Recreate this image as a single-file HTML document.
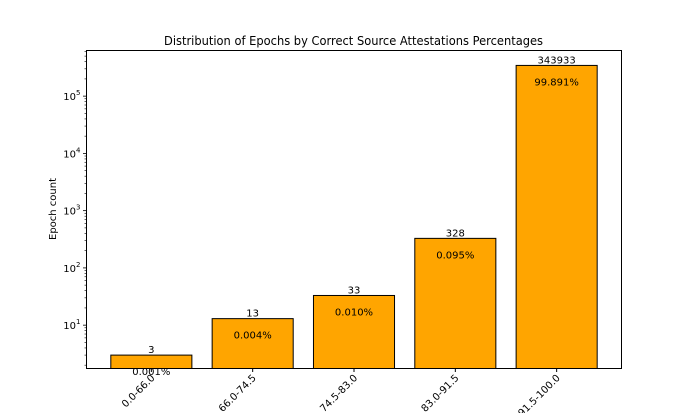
<!DOCTYPE html>
<html><head><meta charset="utf-8"><style>
body{margin:0;background:#fff}
svg text{font-family:"DejaVu Sans","Liberation Sans",sans-serif;fill:#000}
</style></head><body>
<svg id="chart" width="690" height="413" xmlns="http://www.w3.org/2000/svg">
<rect width="690" height="413" fill="#fff"/>
<text x="353.5" y="45" font-size="12" text-anchor="middle" textLength="379" lengthAdjust="spacingAndGlyphs">Distribution of Epochs by Correct Source Attestations Percentages</text>
<text x="0" y="0" font-size="10" text-anchor="middle" transform="translate(56,209) rotate(-90)">Epoch count</text>
<g id="bars"></g>
<g id="yticks"></g>
<rect x="86.5" y="50.5" width="535" height="318" fill="none" stroke="#000" stroke-width="1"/>
</svg>
<script>
const categories = ["0.0-66.0","66.0-74.5","74.5-83.0","83.0-91.5","91.5-100.0"];
const counts = [3, 13, 33, 328, 343933];
const countLabels = ["3","13","33","328","343933"];
const percentLabels = ["0.001%","0.004%","0.010%","0.095%","99.891%"];
const yTickExps = [1,2,3,4,5];

const L=86.5,R=621.5,T=50.5,B=368.5;
const yMinLog=Math.log10(1.75), yMaxLog=5.797;
const xMin=-0.64, xMax=categories.length-1+0.64;
function y(v){return B-(Math.log10(v)-yMinLog)/(yMaxLog-yMinLog)*(B-T);}
function x(i){return L+(i-xMin)/(xMax-xMin)*(R-L);}
const NS="http://www.w3.org/2000/svg";
const bw=0.8*(x(1)-x(0));
const bars=document.getElementById('bars');
function mk(tag,attrs,parent){const e=document.createElementNS(NS,tag);for(const k in attrs)e.setAttribute(k,attrs[k]);parent.appendChild(e);return e;}
categories.forEach((c,i)=>{
  const cx=x(i), top=y(counts[i]);
  const r=mk('rect',{x:cx-bw/2,y:top,width:bw,height:B-top,fill:'#ffa500',stroke:'#000','stroke-width':1},bars);
  
  
  const t1=mk('text',{x:cx,y:top-2,'font-size':10,'text-anchor':'middle'},bars);t1.textContent=countLabels[i];
  
  
  const t2=mk('text',{x:cx,y:top+20,'font-size':10,'text-anchor':'middle'},bars);t2.textContent=percentLabels[i];
  
  
  mk('line',{x1:cx,x2:cx,y1:B,y2:B+3.5,stroke:'#000'},bars);
  const t3=mk('text',{x:0,y:0,'font-size':10,'text-anchor':'end',transform:`translate(${cx+4},${B+10}) rotate(-45)`},bars);t3.textContent=c;
  
  
});
const yt=document.getElementById('yticks');
for(let e=0;e<=6;e++){
  for(let m=1;m<10;m++){
    const v=m*Math.pow(10,e); const py=y(v);
    if(py<T-0.1||py>B+0.1)continue;
    const major=m===1;
    mk('line',{x1:L,x2:L-(major?3.5:2),y1:py,y2:py,stroke:'#000','stroke-width':major?0.8:0.6},yt);
  }
}
yTickExps.forEach(e=>{
  const py=y(Math.pow(10,e));
  const t=mk('text',{x:L-6,y:py+4,'font-size':10,'text-anchor':'end'},yt);
  
  
  t.innerHTML='10<tspan font-size="7" dy="-5">'+e+'</tspan>';
});
</script>
</body></html>
